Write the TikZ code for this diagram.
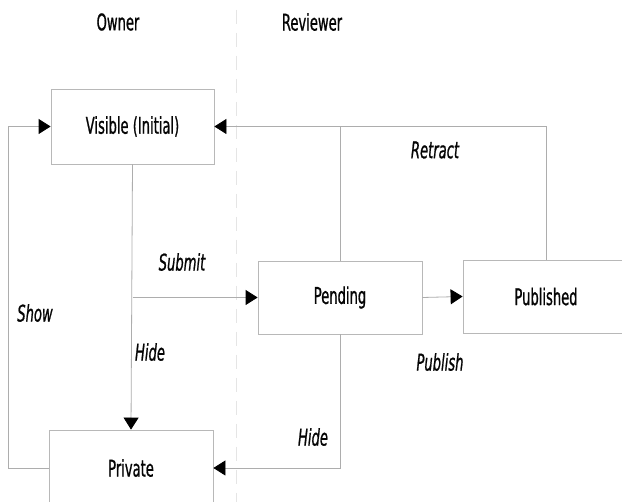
\documentclass[tikz,border=0pt]{standalone}
\usepackage{fontspec}
\setmainfont[FakeStretch=0.57,FakeBold=0.8]{DejaVu Sans}
\usepackage{xcolor}
\usetikzlibrary{positioning,arrows.meta}

\begin{document}
\begin{tikzpicture}[x=1pt,y=-1pt,
  state/.style={draw=boxColor,line width=0.8pt,rectangle,inner sep=0pt,
    text=textColor,font=\fontsize{23}{27}\selectfont},
  conn/.style={draw=lineColor,line width=0.8pt,
    -{Triangle[length=12pt,width=15pt,color=black]}},
  link/.style={draw=lineColor,line width=0.8pt},
  lbl/.style={text=textColor,font=\fontsize{23}{27}\selectfont\itshape,inner sep=0pt},
  lane/.style={text=textColor,font=\fontsize{23}{27}\selectfont,inner sep=0pt}]
\definecolor{fillColor}{RGB}{255,255,255}
\definecolor{boxColor}{gray}{0.72}
\definecolor{lineColor}{gray}{0.68}
\definecolor{textColor}{gray}{0.02}
\definecolor{laneColor}{gray}{0.90}
\path[use as bounding box,fill=fillColor] (0,0) rectangle (622,502);

% swim lanes
\draw[draw=laneColor,line width=0.8pt,dash pattern=on 14pt off 9pt] (236,10) -- (236,502);
\node[lane] (owner) at (118,22) {Owner};
\node[lane] (reviewer) at (312,22) {Reviewer};

% states
\node[state,minimum width=163pt,minimum height=75pt] (visible) at (132.5,126.5) {Visible (Initial)};
\node[state,minimum width=164pt,minimum height=73pt] (pending) at (340,297.5) {Pending};
\node[state,minimum width=166pt,minimum height=73pt] (published) at (546,296.5) {Published};
\node[state,minimum width=164pt,minimum height=76pt] (private) at (131,468) {Private};

% transitions
\coordinate (split) at (visible.south |- pending.west);
\draw[conn] (visible.south) -- (private.north);
\draw[conn] (split) -- (pending.west);
\draw[conn] (pending.east) -- (published.west);
\draw[conn] (published.north) |- (visible.east);
\draw[link] (pending.north) -- (pending.north |- visible.east);
\draw[conn] (pending.south) |- (private.east);
\draw[conn] (private.west) -- ++(-40,0) |- (visible.west);

% labels
\node[lbl] (submit) at (182,262) {Submit};
\node[lbl] (hideOwner) at (150,352) {Hide};
\node[lbl] (show) at (35,313) {Show};
\node[lbl] (publish) at (440,362) {Publish};
\node[lbl] (hideReviewer) at (313,437) {Hide};
\node[lbl] (retract) at (435,150) {Retract};
\end{tikzpicture}
\end{document}
